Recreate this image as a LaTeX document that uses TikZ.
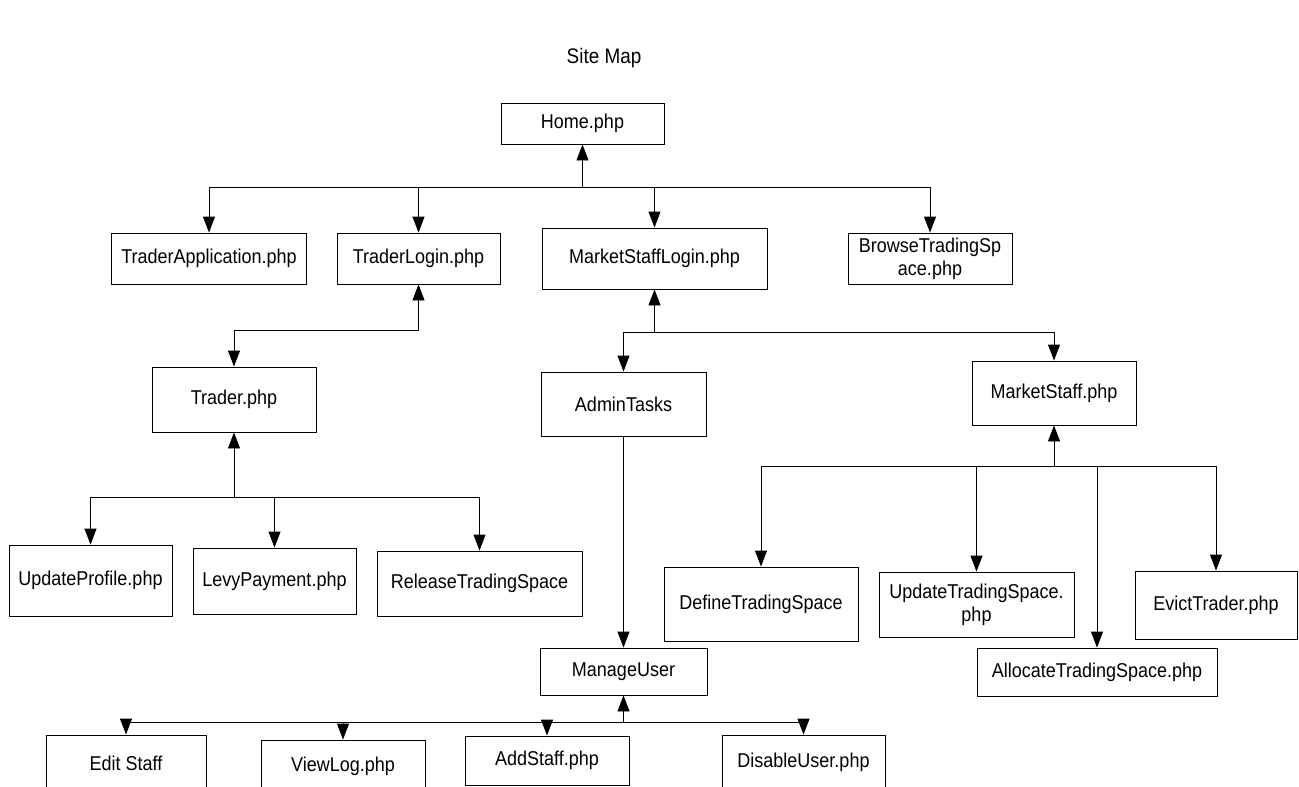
\documentclass[tikz,border=0pt]{standalone}
\usepackage{fontspec}
\setmainfont{Liberation Sans}[FakeStretch=0.9]
\usetikzlibrary{arrows.meta}

\begin{document}
\begin{tikzpicture}[x=1pt, y=-1pt,
  page/.style={rectangle, draw=black, line width=0.9pt, align=center, inner sep=0pt, font=\fontsize{20}{23}\selectfont},
  link/.style={draw=black, line width=0.9pt, >={Triangle[length=16pt, width=12pt]}}
]
\clip (0,0) rectangle (1299,787);

% Title
\node[font=\fontsize{21}{24}\selectfont] (title) at (604,58) {Site Map};

% Top level
\node[page, minimum width=163pt, minimum height=41pt] (home) at (582.5,123.5) {Home.php};

% First level pages
\node[page, minimum width=195pt, minimum height=51pt] (tapp) at (209,258.5) {TraderApplication.php};
\node[page, minimum width=163pt, minimum height=51pt] (tlogin) at (418.5,258.5) {TraderLogin.php};
\node[page, minimum width=225pt, minimum height=61pt] (mslogin) at (654.5,258.5) {MarketStaffLogin.php};
\node[page, minimum width=164pt, minimum height=51pt] (browse) at (930,258.5) {BrowseTradingSp\\ace.php};

% Trader side
\node[page, minimum width=164pt, minimum height=65pt] (trader) at (234,399.5) {Trader.php};
\node[page, minimum width=163pt, minimum height=71pt] (uprofile) at (90.5,580.5) {UpdateProfile.php};
\node[page, minimum width=163pt, minimum height=66pt] (levy) at (274.5,581) {LevyPayment.php};
\node[page, minimum width=205pt, minimum height=65pt] (release) at (479.5,583.5) {ReleaseTradingSpace};

% Market staff side
\node[page, minimum width=165pt, minimum height=64pt] (admin) at (623.5,404) {AdminTasks};
\node[page, minimum width=164pt, minimum height=64pt] (mstaff) at (1054,393) {MarketStaff.php};
\node[page, minimum width=167pt, minimum height=47pt] (manage) at (623.5,671.5) {ManageUser};
\node[page, minimum width=194pt, minimum height=74pt] (define) at (761,604) {DefineTradingSpace};
\node[page, minimum width=195pt, minimum height=65pt] (utspace) at (976.5,604.5) {UpdateTradingSpace.\\php};
\node[page, minimum width=240pt, minimum height=48pt] (allocate) at (1097,672) {AllocateTradingSpace.php};
\node[page, minimum width=162pt, minimum height=68pt] (evict) at (1216,605) {EvictTrader.php};

% Manage user pages
\node[page, minimum width=160pt, minimum height=57pt] (editstaff) at (126,763.5) {Edit Staff};
\node[page, minimum width=164pt, minimum height=52pt] (viewlog) at (343,766) {ViewLog.php};
\node[page, minimum width=164pt, minimum height=49pt] (addstaff) at (547,760.5) {AddStaff.php};
\node[page, minimum width=163pt, minimum height=55pt] (disable) at (803.5,762.5) {DisableUser.php};

% Connections
\coordinate (homebus) at (582.5,187);
\draw[link,<-] (home.south) -- (homebus);
\foreach \n in {tapp,tlogin,mslogin,browse}
  \draw[link,->] (homebus) -| (\n.north);

\coordinate (tlbus) at (418.5,330);
\draw[link,<->] (tlogin.south) -- (tlbus) -| (trader.north);

\coordinate (trbus) at (234,497);
\draw[link,<-] (trader.south) -- (trbus);
\foreach \n in {uprofile,levy,release}
  \draw[link,->] (trbus) -| (\n.north);

\coordinate (mslbus) at (654.5,332);
\draw[link,<-] (mslogin.south) -- (mslbus);
\foreach \n in {admin,mstaff}
  \draw[link,->] (mslbus) -| (\n.north);

\draw[link,->] (admin.south) -- (manage.north);

\coordinate (msbus) at (1054,466);
\draw[link,<-] (mstaff.south) -- (msbus);
\foreach \n in {define,utspace,allocate,evict}
  \draw[link,->] (msbus) -| (\n.north);

\coordinate (mubus) at (623.5,722);
\draw[link,<-] (manage.south) -- (mubus);
\foreach \n in {editstaff,viewlog,addstaff,disable}
  \draw[link,->] (mubus) -| (\n.north);

\end{tikzpicture}
\end{document}
